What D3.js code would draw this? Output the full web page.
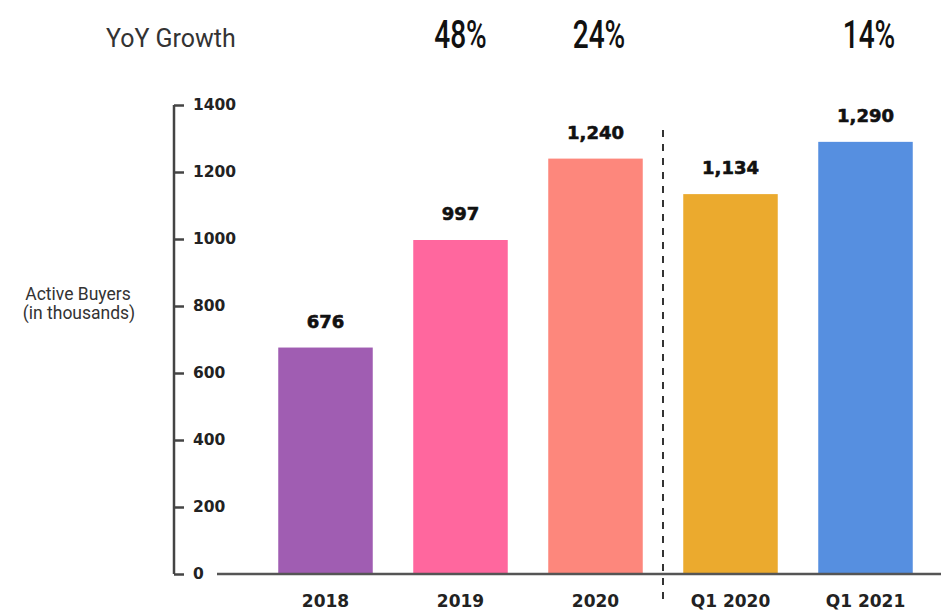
<!DOCTYPE html>
<html><head><meta charset="utf-8">
<script src="https://cdn.jsdelivr.net/npm/d3@7"></script>
<style>body{margin:0;background:#fff}svg{display:block}</style>
</head><body>
<script>
const categories = ["2018","2019","2020","Q1 2020","Q1 2021"];
const values = [676, 997, 1240, 1134, 1290];
const valueLabels = ["676","997","1,240","1,134","1,290"];
const colors = ["#A05DB2","#FF679E","#FD877C","#EBAA2E","#568FE0"];
const growthCats = ["2019","2020","Q1 2021"];
const growthLabels = ["48%","24%","14%"];
const yTicks = [0,200,400,600,800,1000,1200,1400];

const W = 941, H = 613;
const svg = d3.select("body").append("svg").attr("width", W).attr("height", H);

const y = d3.scaleLinear().domain([0,1400]).range([574,105]);
const x = d3.scaleBand().domain(categories).range([258,933]).paddingInner(0.3).paddingOuter(0.15);

// y axis
const yAxis = d3.axisRight(y).tickValues(yTicks).tickSize(10).tickPadding(9).tickFormat(d3.format("d"));
const ga = svg.append("g").attr("transform","translate(174,0)").call(yAxis);
ga.select(".domain").attr("stroke","#444").attr("stroke-width",2.5).attr("d","M0,105V574");
ga.selectAll(".tick line").attr("stroke","#444").attr("stroke-width",2.5);
ga.selectAll(".tick text").attr("font-family","'DejaVu Sans', sans-serif").attr("font-weight",700)
  .attr("font-size",15.5).attr("fill","#222");

// bars
svg.append("g").selectAll("rect").data(categories).join("rect")
  .attr("x", d => x(d)).attr("width", x.bandwidth())
  .attr("y", (d,i) => y(values[i])).attr("height", (d,i) => y(0) - y(values[i]))
  .attr("fill", (d,i) => colors[i]);

// baseline
svg.append("line").attr("x1",217).attr("x2",941).attr("y1",y(0)).attr("y2",y(0))
  .attr("stroke","#555").attr("stroke-width",2.5);

// dashed separator
const sepX = (x("2020") + x.bandwidth() + x("Q1 2020"))/2;
svg.append("line").attr("x1",sepX).attr("x2",sepX).attr("y1",130).attr("y2",606)
  .attr("stroke","#333").attr("stroke-width",2).attr("stroke-dasharray","7,7");

// value labels
svg.append("g").selectAll("text").data(categories).join("text")
  .attr("x", d => x(d) + x.bandwidth()/2)
  .attr("y", (d,i) => y(values[i]) - 20)
  .attr("text-anchor","middle")
  .attr("font-family","'DejaVu Sans', sans-serif").attr("font-weight",700)
  .attr("font-size",18).attr("fill","#111").attr("stroke","#111").attr("stroke-width",0.6)
  .text((d,i) => valueLabels[i]);

// x labels
svg.append("g").selectAll("text").data(categories).join("text")
  .attr("x", d => x(d) + x.bandwidth()/2).attr("y", 607)
  .attr("text-anchor","middle")
  .attr("font-family","'DejaVu Sans', sans-serif").attr("font-weight",700)
  .attr("font-size",17).attr("fill","#222")
  .text(d => d);

// y title
const yt = svg.append("text").attr("text-anchor","middle")
  .attr("font-family","Roboto, 'DejaVu Sans', sans-serif").attr("font-size",17.5).attr("fill","#333");
yt.append("tspan").attr("x",78).attr("y",300).text("Active Buyers");
yt.append("tspan").attr("x",79).attr("y",319).text("(in thousands)");

// YoY growth
svg.append("text").attr("transform","translate(106,47) scale(0.96,1)")
  .attr("font-family","Roboto, 'DejaVu Sans', sans-serif").attr("font-size",26).attr("fill","#333")
  .text("YoY Growth");
svg.append("g").selectAll("text").data(growthCats).join("text")
  .attr("transform", d => `translate(${x(d) + x.bandwidth()/2 + (d === "2019" ? 0 : 3.5)},48) scale(0.72,1)`)
  .attr("text-anchor","middle")
  .attr("font-family","Roboto, 'DejaVu Sans', sans-serif").attr("font-weight",500)
  .attr("font-size",39).attr("fill","#111")
  .text((d,i) => growthLabels[i]);
</script>
</body></html>
